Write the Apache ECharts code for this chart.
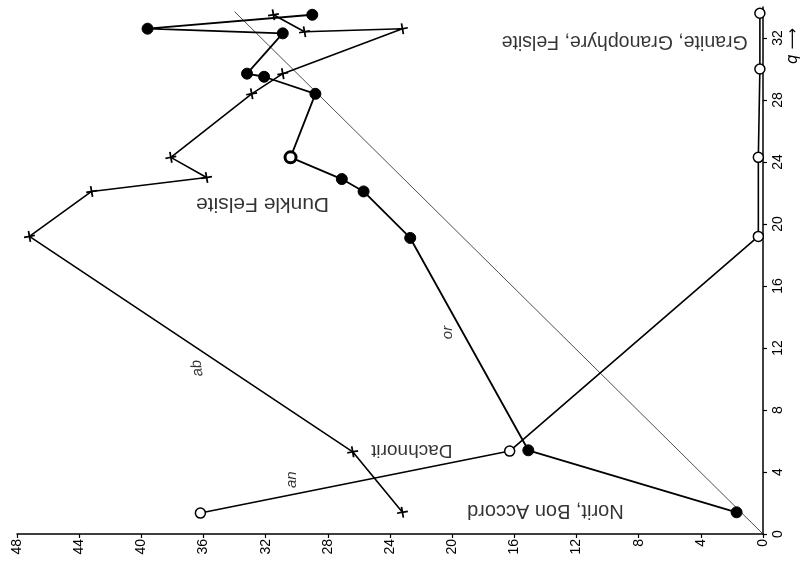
<!DOCTYPE html>
<html>
<head>
<meta charset="utf-8">
<script src="https://cdn.jsdelivr.net/npm/echarts@6/dist/echarts.min.js"></script>
<style>
html,body{margin:0;padding:0;background:#fff;}
#chart{width:800px;height:566px;}
</style>
</head>
<body>
<div id="chart"></div>
<script>
// Tick labels
const vTicks = [0, 4, 8, 12, 16, 20, 24, 28, 32, 36, 40, 44, 48];
const qTicks = [0, 4, 8, 12, 16, 20, 24, 28, 32];

// Series "an" (open circles)
const anV = [36.2, 16.3, 0.3, 0.3, 0.2, 0.2];
const anQ = [1.35, 5.35, 19.2, 24.3, 30.0, 33.6];

// Series "ab" (crosses)
const abV = [23.2, 26.4, 47.2, 43.2, 35.8, 38.1, 32.9, 30.9, 23.2, 29.5, 31.5];
const abQ = [1.4, 5.3, 19.2, 22.1, 23.0, 24.3, 28.4, 29.7, 32.6, 32.4, 33.5];

// Series "or" (filled dots)
const orV = [1.7, 15.1, 22.7, 25.7, 27.1, 30.4, 28.8, 32.1, 33.2, 30.9, 39.6, 29.0];
const orQ = [1.4, 5.4, 19.1, 22.1, 22.9, 24.3, 28.4, 29.5, 29.7, 32.3, 32.6, 33.5];

// Diagonal reference line
const diagV = [0, 34.0];
const diagQ = [0, 33.7];

// Annotations: text, v, q, rotation, size, italic
const noteText = ['Norit, Bon Accord', 'Dachnorit', 'Dunkle Felsite', 'Granite, Granophyre, Felsite', 'an', 'ab', 'or'];
const noteV = [14.0, 22.6, 32.2, 8.9, 30.3, 36.4, 20.3];
const noteQ = [1.5, 5.4, 21.3, 31.8, 3.5, 10.7, 13.0];
const noteRot = [180, 180, 180, 180, 90, 100, 90];
const noteSize = [20, 19, 21, 19.5, 15, 15, 15];
const noteItalic = [false, false, false, false, true, true, true];

const zip = (a, b) => a.map((x, i) => [x, b[i]]);

const chart = echarts.init(document.getElementById('chart'), null, {renderer: 'canvas'});
const font = 'Liberation Sans, Arial, sans-serif';
const plusPath = 'path://M4.2,0h1.6v4.2h4.2v1.6h-4.2v4.2h-1.6v-4.2h-4.2v-1.6h4.2z';

const orData = zip(orV, orQ).map((p, i) => i === 5
  ? {value: p, itemStyle: {color: '#fff', borderColor: '#000', borderWidth: 3}}
  : p);

chart.setOption({
  animation: false,
  backgroundColor: '#fff',
  grid: {left: 17, right: 37, top: 7, bottom: 32, containLabel: false},
  xAxis: {
    type: 'value', min: 0, max: 48, interval: 4, inverse: true, position: 'bottom',
    splitLine: {show: false},
    axisLine: {show: true, lineStyle: {color: '#000', width: 1.5}},
    axisTick: {show: true, length: 4, lineStyle: {color: '#000', width: 1.2}, customValues: vTicks},
    axisLabel: {rotate: 90, color: '#000', fontSize: 14, fontFamily: font, margin: 5, customValues: vTicks}
  },
  yAxis: {
    type: 'value', min: 0, max: 34, interval: 4, position: 'right',
    splitLine: {show: false},
    axisLine: {show: true, lineStyle: {color: '#000', width: 1.5}},
    axisTick: {show: true, length: 4, lineStyle: {color: '#000', width: 1.2}, customValues: qTicks},
    axisLabel: {rotate: 90, color: '#000', fontSize: 14, fontFamily: font, margin: 8, customValues: qTicks}
  },
  graphic: [{
    type: 'text', x: 793, y: 46, rotation: Math.PI / 2,
    style: {text: 'q \u27F6', font: 'italic 15px DejaVu Sans', fill: '#000', align: 'center', verticalAlign: 'middle'}
  }],
  series: [
    {
      type: 'line', data: zip(diagV, diagQ), symbol: 'none',
      lineStyle: {color: '#222', width: 0.8}, z: 1
    },
    {
      name: 'an', type: 'line', data: zip(anV, anQ),
      symbol: 'circle', symbolSize: 10,
      lineStyle: {color: '#000', width: 1.6},
      itemStyle: {color: '#fff', borderColor: '#000', borderWidth: 1.5}, z: 3
    },
    {
      name: 'ab', type: 'line', data: zip(abV, abQ),
      symbol: plusPath, symbolSize: 11, symbolRotate: 10,
      lineStyle: {color: '#000', width: 1.6},
      itemStyle: {color: '#000'}, z: 3
    },
    {
      name: 'or', type: 'line', data: orData,
      symbol: 'circle', symbolSize: 11,
      lineStyle: {color: '#000', width: 1.8},
      itemStyle: {color: '#000', borderColor: '#000', borderWidth: 1}, z: 4
    },
    {
      type: 'scatter', symbolSize: 0, z: 5,
      data: noteText.map((t, i) => ({
        value: [noteV[i], noteQ[i]],
        label: {
          show: true, formatter: t, rotate: noteRot[i], position: 'inside',
          align: 'center', verticalAlign: 'middle',
          fontSize: noteSize[i], fontStyle: noteItalic[i] ? 'italic' : 'normal',
          fontFamily: font, color: '#000'
        }
      }))
    }
  ]
});
</script>
</body>
</html>
